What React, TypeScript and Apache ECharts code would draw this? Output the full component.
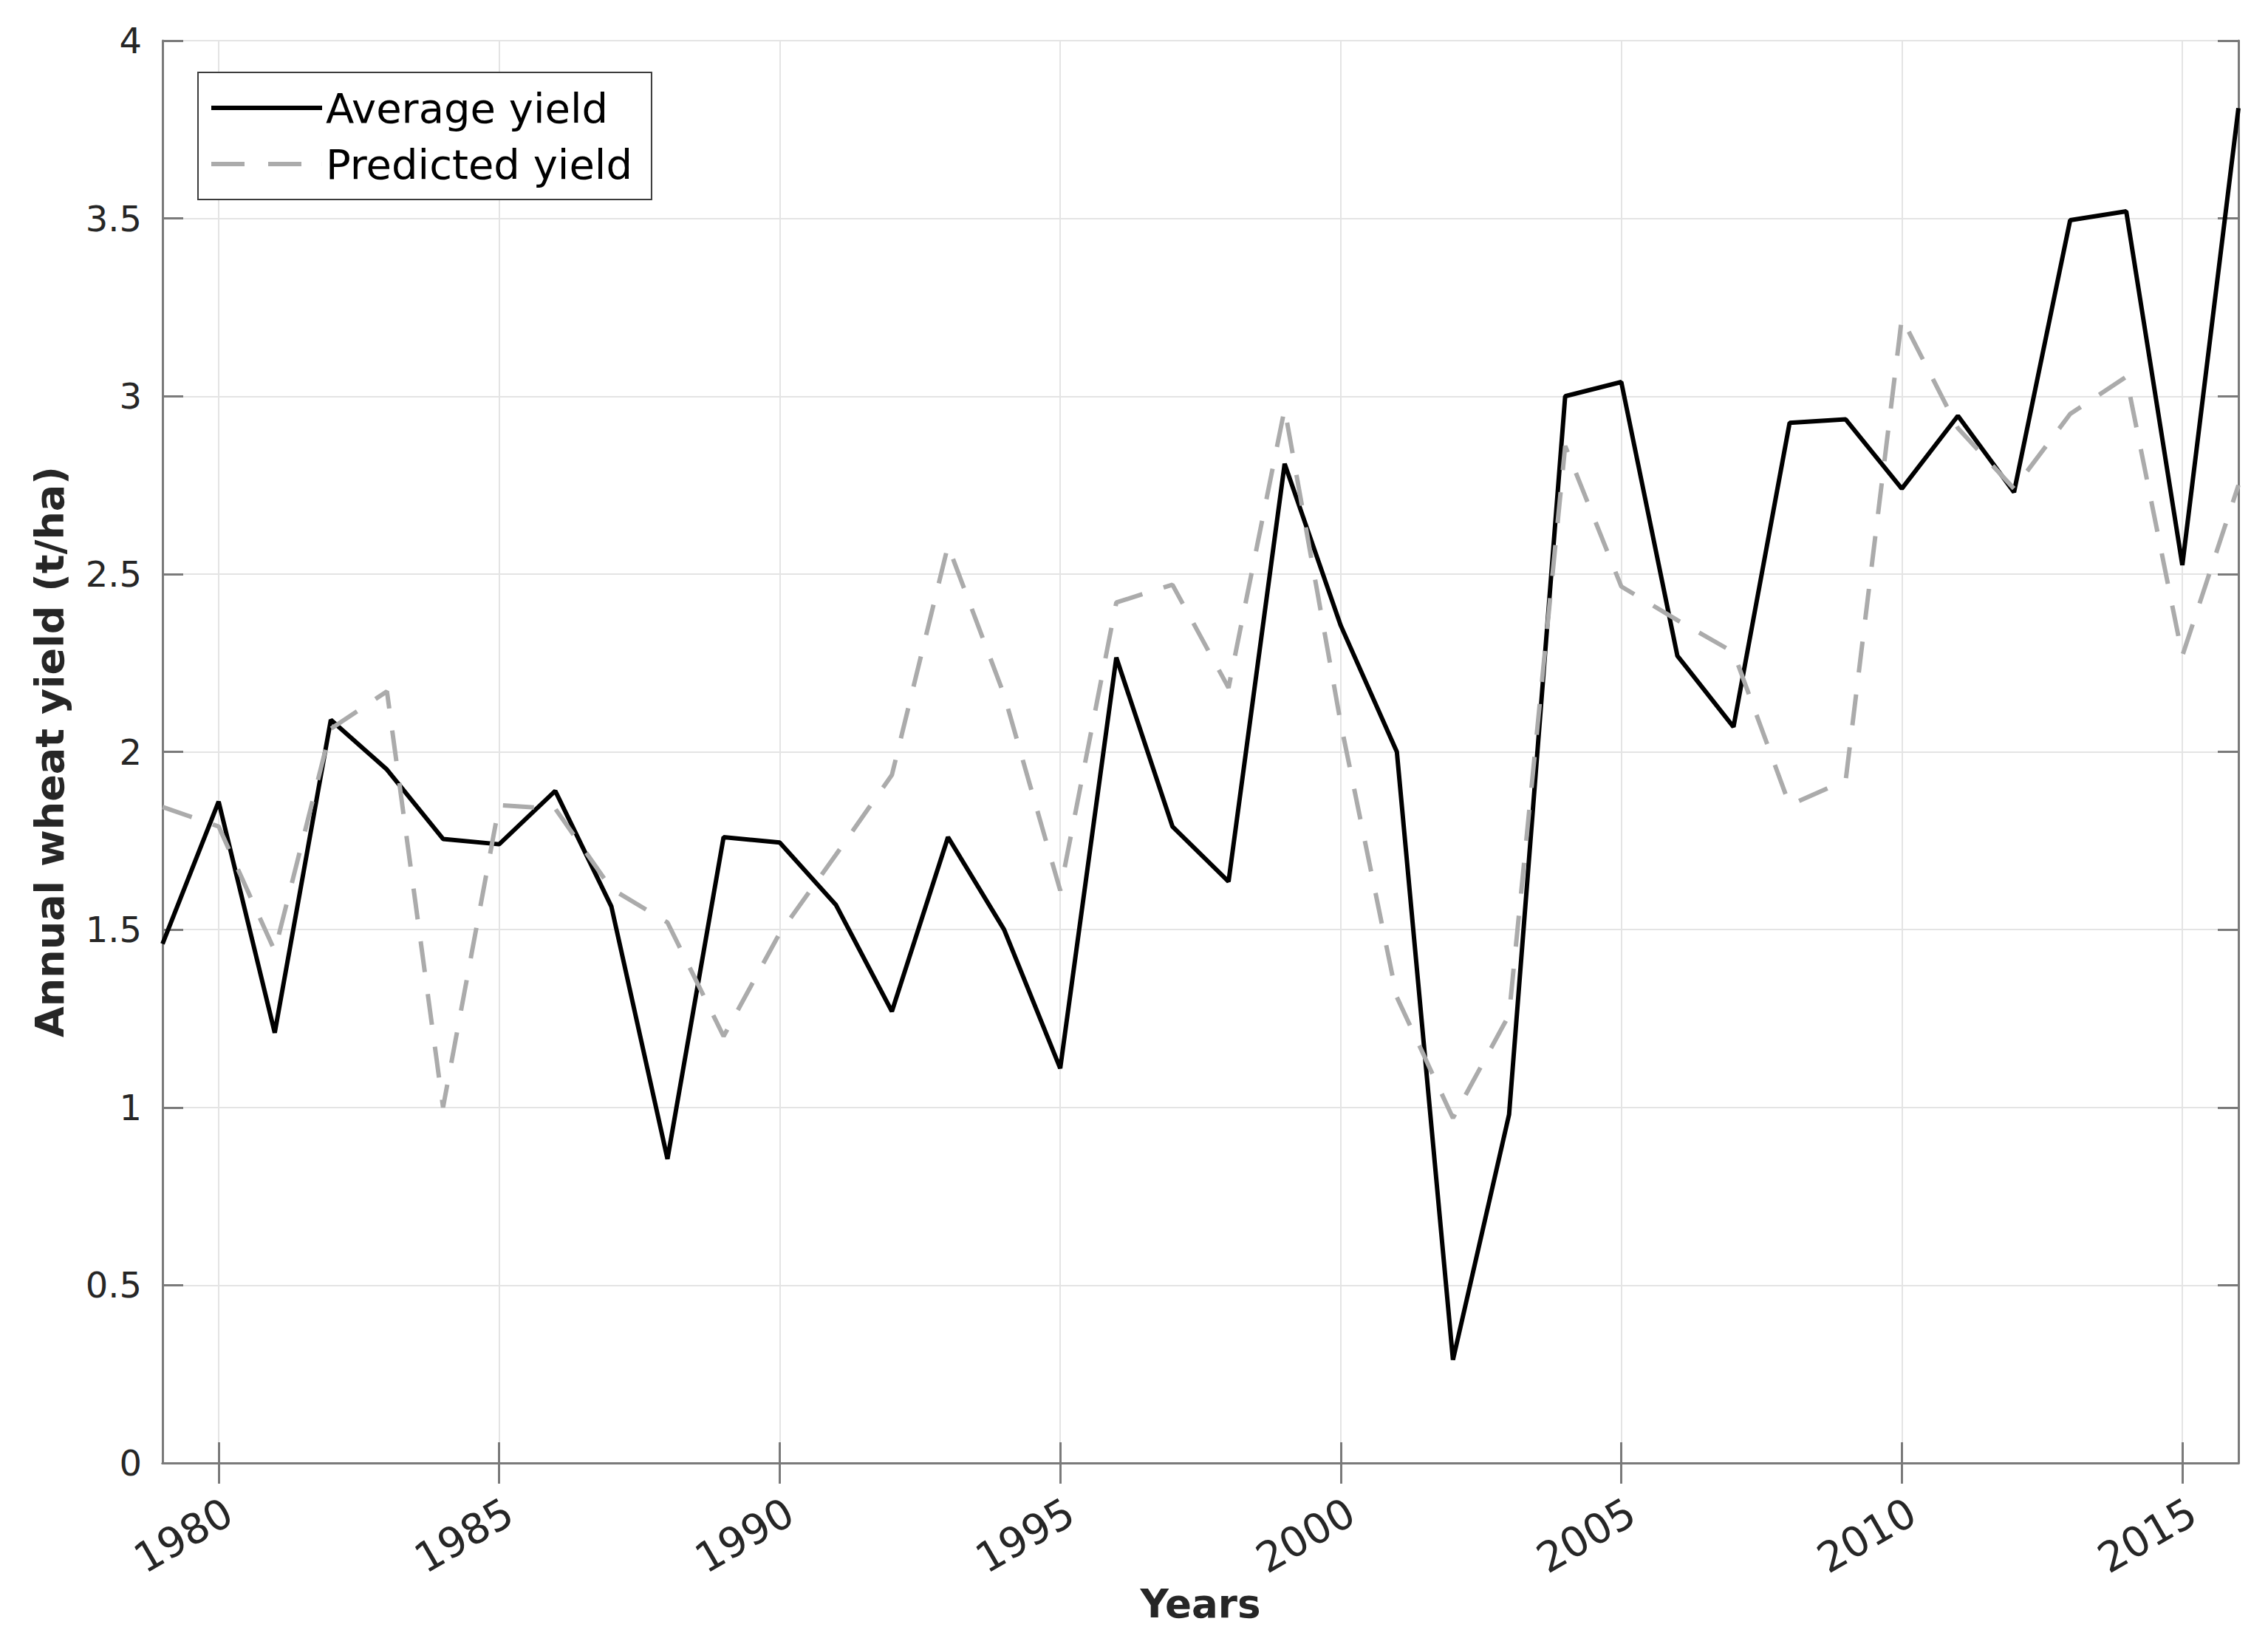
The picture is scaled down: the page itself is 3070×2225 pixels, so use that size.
import React, { useEffect, useRef } from "react";
import * as echarts from "echarts";

const years = [
  "1979", "1980", "1981", "1982", "1983", "1984", "1985", "1986", "1987", "1988",
  "1989", "1990", "1991", "1992", "1993", "1994", "1995", "1996", "1997", "1998",
  "1999", "2000", "2001", "2002", "2003", "2004", "2005", "2006", "2007", "2008",
  "2009", "2010", "2011", "2012", "2013", "2014", "2015", "2016",
];

const averageYield = [
  1.46, 1.86, 1.21, 2.09, 1.95, 1.755, 1.74, 1.89, 1.565, 0.855,
  1.76, 1.745, 1.57, 1.27, 1.76, 1.5, 1.11, 2.265, 1.79, 1.635,
  2.81, 2.355, 2.0, 0.29, 0.98, 3.0, 3.04, 2.27, 2.07, 2.925,
  2.935, 2.74, 2.945, 2.73, 3.495, 3.52, 2.525, 3.81,
];

const predictedYield = [
  1.845, 1.79, 1.44, 2.065, 2.17, 1.0, 1.85, 1.84, 1.615, 1.52,
  1.2, 1.49, 1.71, 1.935, 2.58, 2.16, 1.61, 2.42, 2.47, 2.18,
  2.965, 2.08, 1.31, 0.97, 1.26, 2.86, 2.465, 2.37, 2.28, 1.85,
  1.92, 3.22, 2.91, 2.74, 2.95, 3.055, 2.27, 2.75,
];

const seriesNames = ["Average yield", "Predicted yield"];
const xTitle = "Years";
const yTitle = "Annual wheat yield (t/ha)";
const yMin = 0;
const yMax = 4;
const yStep = 0.5;
const yearStep = 5;

const FONT = "DejaVu Sans";
const AXIS_COLOR = "#7a7a7a";
const GRID_COLOR = "#e4e4e4";
const LABEL_COLOR = "#262626";
const SOLID_COLOR = "#000000";
const DASH_COLOR = "#ababab";

const SOLID_ICON = "path://M0,0H150V6H0Z";
const DASH_ICON = "path://M0,0H45V6H0Z M77,0H122V6H77Z M149.9,0H150V6H149.9Z";

export default function App() {
  const ref = useRef<HTMLDivElement>(null);

  useEffect(() => {
    document.body.style.margin = "0";
    if (!ref.current) return;
    const chart = echarts.init(ref.current, undefined, { renderer: "svg" });
    const isMajor = (index: number) => Number(years[index]) % yearStep === 0;

    const option = {
      animation: false,
      backgroundColor: "#ffffff",
      textStyle: { fontFamily: FONT },
      grid: { left: 220, right: 40, top: 55, bottom: 245, containLabel: false },
      legend: {
        data: [
          { name: seriesNames[0], icon: SOLID_ICON, itemStyle: { color: SOLID_COLOR } },
          { name: seriesNames[1], icon: DASH_ICON, itemStyle: { color: DASH_COLOR } },
        ],
        orient: "vertical",
        left: 268,
        top: 98,
        backgroundColor: "#ffffff",
        borderColor: "#3c3c3c",
        borderWidth: 2,
        borderRadius: 0,
        padding: [20, 26, 20, 18],
        itemWidth: 150,
        itemHeight: 6,
        itemGap: 20,
        itemTextGap: 26,
        textStyle: { fontFamily: FONT, fontSize: 56, color: "#000000" },
      },
      xAxis: [
        {
          type: "category",
          data: years,
          boundaryGap: false,
          name: xTitle,
          nameLocation: "middle",
          nameGap: 162,
          nameTextStyle: { fontFamily: FONT, fontSize: 53, fontWeight: "bold", color: LABEL_COLOR },
          axisLine: { show: true, lineStyle: { color: AXIS_COLOR, width: 3 } },
          axisTick: { show: true, inside: true, length: 28, interval: isMajor, lineStyle: { color: AXIS_COLOR, width: 3 } },
          axisLabel: {
            show: true,
            interval: isMajor,
            rotate: 30,
            margin: 38,
            align: "right",
            verticalAlign: "top",
            fontFamily: FONT,
            fontSize: 56,
            color: LABEL_COLOR,
          },
          splitLine: { show: true, interval: isMajor, lineStyle: { color: GRID_COLOR, width: 2 } },
        },
        {
          type: "category",
          data: years,
          boundaryGap: false,
          position: "top",
          axisLine: { show: true, lineStyle: { color: AXIS_COLOR, width: 3 } },
          axisTick: { show: true, inside: true, length: 28, interval: isMajor, lineStyle: { color: AXIS_COLOR, width: 3 } },
          axisLabel: { show: false },
          splitLine: { show: false },
        },
      ],
      yAxis: [
        {
          type: "value",
          min: yMin,
          max: yMax,
          interval: yStep,
          name: yTitle,
          nameLocation: "middle",
          nameGap: 126,
          nameRotate: 90,
          nameTextStyle: { fontFamily: FONT, fontSize: 54, fontWeight: "bold", color: LABEL_COLOR },
          axisLine: { show: true, lineStyle: { color: AXIS_COLOR, width: 3 } },
          axisTick: { show: true, inside: true, length: 28, lineStyle: { color: AXIS_COLOR, width: 3 } },
          axisLabel: { show: true, margin: 28, fontFamily: FONT, fontSize: 48, color: LABEL_COLOR },
          splitLine: { show: true, lineStyle: { color: GRID_COLOR, width: 2 } },
        },
        {
          type: "value",
          min: yMin,
          max: yMax,
          interval: yStep,
          position: "right",
          axisLine: { show: true, lineStyle: { color: AXIS_COLOR, width: 3 } },
          axisTick: { show: true, inside: true, length: 28, lineStyle: { color: AXIS_COLOR, width: 3 } },
          axisLabel: { show: false },
          splitLine: { show: false },
        },
      ],
      series: [
        {
          name: seriesNames[0],
          type: "line",
          data: averageYield,
          xAxisIndex: 0,
          yAxisIndex: 0,
          symbol: "none",
          lineStyle: { color: SOLID_COLOR, width: 6, type: "solid" },
          itemStyle: { color: SOLID_COLOR },
          z: 3,
        },
        {
          name: seriesNames[1],
          type: "line",
          data: predictedYield,
          xAxisIndex: 0,
          yAxisIndex: 0,
          symbol: "none",
          lineStyle: { color: DASH_COLOR, width: 6, type: [42, 30] },
          itemStyle: { color: DASH_COLOR },
          z: 4,
        },
      ],
    };

    chart.setOption(option as any);
    return () => {
      chart.dispose();
    };
  }, []);

  return <div ref={ref} style={{ width: 3070, height: 2225 }} />;
}
